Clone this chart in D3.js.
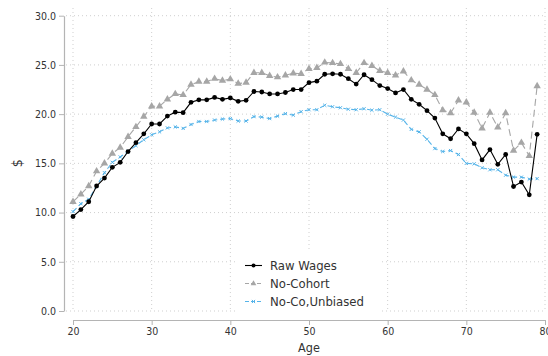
<!DOCTYPE html>
<html><head><meta charset="utf-8">
<script src="https://cdn.jsdelivr.net/npm/d3@7"></script>
<style>
body{margin:0;background:#fff;}
svg{display:block;font-family:"DejaVu Sans Condensed","DejaVu Sans",sans-serif;}
</style></head>
<body>
<svg id="chart" width="548" height="356"></svg>
<script>
const ages = d3.range(20, 80);
const rawWages = [9.6,10.3,11.1,12.7,13.5,14.6,15.1,16.2,17.1,18.0,
  19.0,19.0,19.8,20.2,20.15,21.2,21.45,21.45,21.7,21.5,
  21.65,21.3,21.4,22.3,22.25,22.05,22.05,22.2,22.5,22.5,
  23.2,23.35,24.05,24.1,24.05,23.6,23.05,24.0,23.5,22.9,
  22.6,22.15,22.5,21.5,21.0,20.35,19.6,18.0,17.5,18.5,
  18.0,17.0,15.35,16.4,14.9,15.9,12.65,13.1,11.8,17.95];
const noCohort = [11.1,11.85,12.7,14.2,15.0,16.0,16.6,17.7,18.7,19.75,
  20.8,20.8,21.5,22.05,21.95,23.0,23.3,23.3,23.6,23.4,
  23.55,23.1,23.2,24.2,24.2,23.9,23.75,23.95,24.15,24.1,
  24.6,24.7,25.25,25.2,25.1,24.6,24.2,25.2,24.9,24.4,
  24.2,23.95,24.35,23.45,23.0,22.5,21.95,20.4,20.1,21.4,
  21.2,20.15,18.55,20.15,18.65,20.1,16.3,17.1,15.75,22.85];
const noCoUnbiased = [10.1,10.9,11.35,12.7,14.05,15.1,15.65,16.2,16.8,17.4,
  17.9,18.2,18.6,18.7,18.55,18.95,19.25,19.25,19.4,19.5,
  19.55,19.3,19.3,19.75,19.7,19.55,19.8,20.05,19.9,20.25,
  20.45,20.45,20.9,20.75,20.65,20.5,20.45,20.55,20.4,20.45,
  20.0,19.7,19.4,18.45,18.2,17.45,16.5,16.2,16.3,15.9,
  15.0,14.95,14.55,14.35,14.35,13.8,13.6,13.6,13.4,13.45];
const seriesNames = ["Raw Wages","No-Cohort","No-Co,Unbiased"];
const xTicks = [20,30,40,50,60,70,80];
const yTicks = [0,5,10,15,20,25,30];
const xTitle = "Age";
const yTitle = "$";

const svg = d3.select("#chart");
const x = d3.scaleLinear().domain([20,80]).range([73,545]);
const y = d3.scaleLinear().domain([0,30]).range([311,15.7]);

const gridColor = "#cfcfcf";
// grid
svg.append("g").selectAll("line").data(yTicks).join("line")
  .attr("x1",66).attr("x2",546).attr("y1",d=>y(d)).attr("y2",d=>y(d))
  .attr("stroke",gridColor).attr("stroke-width",1).attr("stroke-dasharray","1,3");
svg.append("g").selectAll("line").data(xTicks).join("line")
  .attr("x1",d=>x(d)).attr("x2",d=>x(d)).attr("y1",8).attr("y2",311)
  .attr("stroke",gridColor).attr("stroke-width",1).attr("stroke-dasharray","1,3");

// axes
const axisColor = "#b4b4b4", textColor = "#333";
const yAx = svg.append("g").attr("transform","translate(64,0)")
  .call(d3.axisLeft(y).tickValues(yTicks).tickFormat(d3.format(".1f")).tickSize(5).tickSizeOuter(0).tickPadding(3));
const xAx = svg.append("g").attr("transform","translate(0,320)")
  .call(d3.axisBottom(x).tickValues(xTicks).tickFormat(d3.format("d")).tickSize(5).tickSizeOuter(0).tickPadding(3));
[yAx,xAx].forEach(a=>{
  a.select(".domain").attr("stroke",axisColor).attr("stroke-width",1.2);
  a.selectAll(".tick line").attr("stroke",axisColor);
  a.selectAll(".tick text").attr("fill",textColor).style("font-size","10.5px").style("font-family",'"DejaVu Sans Condensed","DejaVu Sans",sans-serif');
});
svg.append("text").attr("x",x(50)).attr("y",352).attr("text-anchor","middle")
  .attr("fill",textColor).style("font-size","12.5px").text(xTitle);
svg.append("text").attr("transform",`translate(22,${y(15)}) rotate(-90)`).attr("text-anchor","middle")
  .attr("fill",textColor).style("font-size","14px").text(yTitle);

const line = d3.line().x((d,i)=>x(ages[i])).y(d=>y(d));
const grey = "#a6a6a6", blue = "#56b4e9";
const tri = d3.symbol().type(d3.symbolTriangle).size(24);
const crs = d3.symbol().type(d3.symbolX).size(8);

// No-Cohort
svg.append("path").datum(noCohort).attr("d",line).attr("fill","none")
  .attr("stroke",grey).attr("stroke-width",1.1).attr("stroke-dasharray","7,4");
svg.append("g").selectAll("path").data(noCohort).join("path")
  .attr("d",tri).attr("transform",(d,i)=>`translate(${x(ages[i])},${y(d)})`).attr("fill",grey);
// Unbiased
svg.append("path").datum(noCoUnbiased).attr("d",line).attr("fill","none")
  .attr("stroke",blue).attr("stroke-width",1.1).attr("stroke-dasharray","5,3");
svg.append("g").selectAll("path").data(noCoUnbiased).join("path")
  .attr("d",crs).attr("transform",(d,i)=>`translate(${x(ages[i])},${y(d)})`).attr("fill","none").attr("stroke",blue).attr("stroke-width",1);
// Raw
svg.append("path").datum(rawWages).attr("d",line).attr("fill","none")
  .attr("stroke","#000").attr("stroke-width",1.1);
svg.append("g").selectAll("circle").data(rawWages).join("circle")
  .attr("cx",(d,i)=>x(ages[i])).attr("cy",d=>y(d)).attr("r",2.4).attr("fill","#000");

// legend
const lg = svg.append("g");
lg.append("rect").attr("x",238).attr("y",251).attr("width",142).attr("height",64).attr("fill","#fff");
const styles = [
  {c:"#000",dash:null,m:"circle"},
  {c:grey,dash:"4,2",m:"tri"},
  {c:blue,dash:"4,2",m:"x"}];
const rowsY = [265.5,283.5,301.5];
seriesNames.forEach((n,i)=>{
  const s = styles[i], yy = rowsY[i];
  lg.append("line").attr("x1",245).attr("x2",262).attr("y1",yy).attr("y2",yy)
    .attr("stroke",s.c).attr("stroke-width",1.1).attr("stroke-dasharray",s.dash);
  if(s.m==="circle") lg.append("circle").attr("cx",253.5).attr("cy",yy).attr("r",2).attr("fill",s.c);
  else if(s.m==="tri") lg.append("path").attr("d",d3.symbol().type(d3.symbolTriangle).size(14)).attr("transform",`translate(253.5,${yy})`).attr("fill",s.c);
  else lg.append("path").attr("d",crs).attr("transform",`translate(253.5,${yy})`).attr("fill","none").attr("stroke",s.c);
  lg.append("text").attr("x",270).attr("y",yy+4.5).attr("fill",textColor).style("font-size","13px").text(n);
});
</script>
</body></html>
